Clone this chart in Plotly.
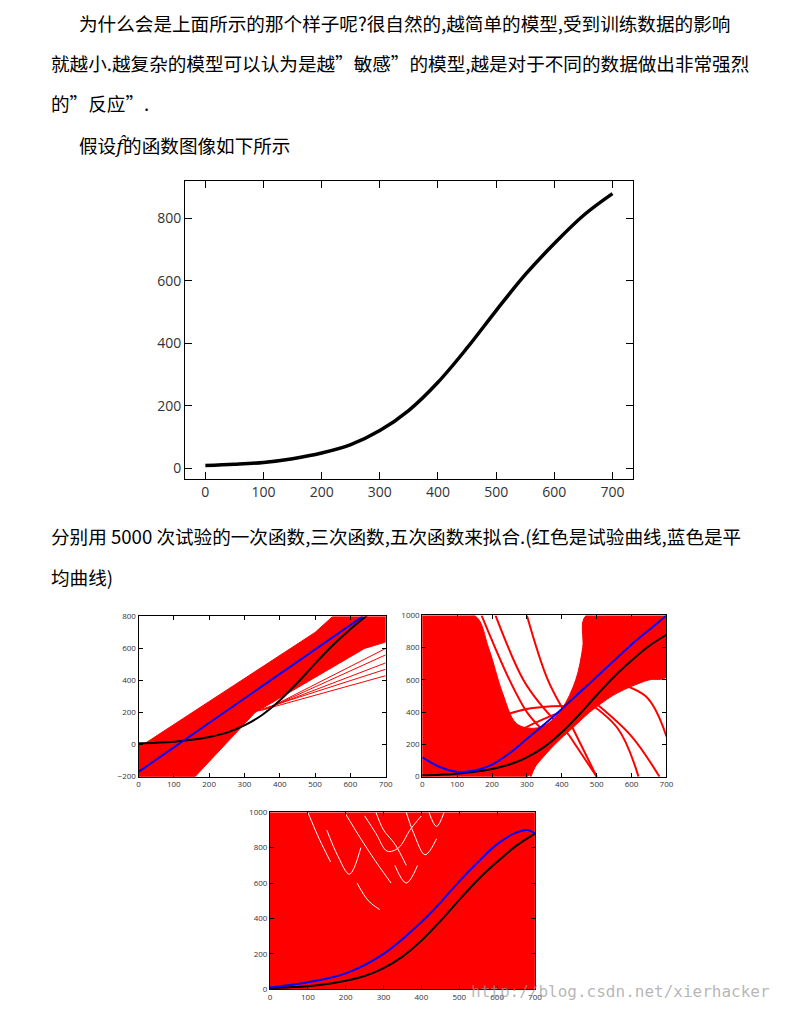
import plotly.graph_objects as go

W, H = 789, 1016
OFF = 8  # page body margin
# true function f
fx = [0, 50, 100, 150, 200, 250, 300, 350, 400, 450, 500, 550, 600, 650, 700]
fy = [8, 12, 18, 30, 48, 75, 120, 185, 275, 385, 505, 620, 720, 810, 880]

# plot 1: linear fits
p1_band_x = [0, 0, 20, 500, 550, 700, 700, 640, 330, 160, 130, 0]
p1_band_y = [-200, 0, 10, 700, 800, 800, 640, 600, 200, -200, -200, -200]
p1_lines_x = [[340, 700], [340, 700], [350, 700], [360, 700], [370, 700]]
p1_lines_y = [[210, 430], [215, 470], [215, 510], [220, 560], [230, 600]]
p1_blue_x = [0, 635]
p1_blue_y = [-170, 800]

# plot 2: cubic fits
p2_fill_x = [0, 0, 150, 190, 230, 270, 320, 360, 400, 440, 460, 470, 700, 700, 650, 600, 560, 530, 480, 430, 380, 330, 300, 0]
p2_fill_y = [0, 1000, 1000, 800, 520, 330, 300, 330, 420, 600, 800, 1000, 1000, 620, 600, 560, 520, 480, 400, 300, 200, 80, 0, 0]
p2_lines_x = [[170, 250, 300, 340], [210, 290, 350, 420], [300, 360, 420, 500], [450, 560, 620], [500, 600, 680],
              [520, 640, 700], [170, 300, 430], [210, 320, 430], [310, 340, 380], [420, 460, 500]]
p2_lines_y = [[1000, 600, 400, 300], [1000, 600, 420, 260], [1000, 600, 350, 0], [500, 300, 0], [450, 250, 0],
              [600, 500, 250], [330, 420, 440], [200, 330, 430], [0, 150, 260], [260, 130, 0]]
p2_blue_x = [0, 50, 100, 150, 200, 250, 300, 350, 400, 450, 500, 550, 600, 650, 700]
p2_blue_y = [120, 60, 30, 38, 75, 145, 235, 325, 420, 520, 620, 720, 820, 910, 1000]

# plot 3: quintic fits
p3_fill_x = [0, 0, 700, 700, 0]
p3_fill_y = [0, 1000, 1000, 0, 0]
p3_holes_x = [[250, 280, 310, 340, 370, 400], [150, 180, 210, 240], [330, 360, 390], [200, 240, 280, 320],
              [280, 300, 330, 360], [360, 380, 410, 440], [100, 130, 160], [230, 260, 290], [420, 440, 460]]
p3_holes_y = [[980, 880, 780, 800, 900, 980], [900, 750, 650, 800], [700, 600, 700], [990, 850, 720, 600],
              [1000, 900, 820, 700], [1000, 880, 760, 850], [1000, 850, 720], [600, 500, 450], [1000, 920, 1000]]
p3_blue_x = [0, 100, 200, 300, 400, 450, 500, 550, 600, 650, 680, 700]
p3_blue_y = [10, 40, 90, 200, 380, 490, 610, 720, 820, 885, 900, 880]

fig = go.Figure()

def px(x): return (x - OFF) / W
def py(y): return 1 - (y - OFF) / H

axstyle = dict(showline=True, linecolor="black", linewidth=1, mirror="ticks", ticks="inside",
               ticklen=4, tickcolor="black", showgrid=False, zeroline=False)

axes = {
    1: dict(dom_x=(185, 638), dom_y=(177, 478), xr=[-35, 735], yr=[-35, 920], yt=[0, 200, 400, 600, 800], fs=14, tl=7),
    2: dict(dom_x=(138, 388), dom_y=(617, 779), xr=[0, 700], yr=[-200, 800], yt=[-200, 0, 200, 400, 600, 800], fs=8, tl=4),
    3: dict(dom_x=(425, 672), dom_y=(616, 779), xr=[0, 700], yr=[0, 1000], yt=[0, 200, 400, 600, 800, 1000], fs=8, tl=4),
    4: dict(dom_x=(271, 539), dom_y=(815, 994), xr=[0, 700], yr=[0, 1000], yt=[0, 200, 400, 600, 800, 1000], fs=8, tl=4),
}
lay = {}
for i, a in axes.items():
    s = "" if i == 1 else str(i)
    lay["xaxis" + s] = dict(axstyle, domain=[px(a["dom_x"][0]), px(a["dom_x"][1])], range=a["xr"],
                            tickvals=[0, 100, 200, 300, 400, 500, 600, 700], anchor="y" + s,
                            tickfont=dict(size=a["fs"], color="#333"), ticklen=a["tl"])
    lay["yaxis" + s] = dict(axstyle, domain=[py(a["dom_y"][1]), py(a["dom_y"][0])], range=a["yr"],
                            tickvals=a["yt"], anchor="x" + s,
                            tickfont=dict(size=a["fs"], color="#333"), ticklen=a["tl"])

def add(x, y, ax, **kw):
    s = "" if ax == 1 else str(ax)
    fig.add_trace(go.Scatter(x=x, y=y, xaxis="x" + s, yaxis="y" + s, mode="lines", showlegend=False, hoverinfo="skip", **kw))

add(fx, fy, 1, line=dict(color="black", width=3.5, shape="spline"))

add(p1_band_x, p1_band_y, 2, fill="toself", fillcolor="red", line=dict(color="red", width=1))
for lx, ly in zip(p1_lines_x, p1_lines_y):
    add(lx, ly, 2, line=dict(color="red", width=1))
add(fx, fy, 2, line=dict(color="black", width=2, shape="spline"))
add(p1_blue_x, p1_blue_y, 2, line=dict(color="blue", width=2))

add(p2_fill_x, p2_fill_y, 3, fill="toself", fillcolor="red", line=dict(color="red", width=1, shape="spline"))
for lx, ly in zip(p2_lines_x, p2_lines_y):
    add(lx, ly, 3, line=dict(color="red", width=2, shape="spline"))
add(fx, fy, 3, line=dict(color="black", width=2, shape="spline"))
add(p2_blue_x, p2_blue_y, 3, line=dict(color="blue", width=2, shape="spline"))

add(p3_fill_x, p3_fill_y, 4, fill="toself", fillcolor="red", line=dict(color="red", width=0))
for lx, ly in zip(p3_holes_x, p3_holes_y):
    add(lx, ly, 4, line=dict(color="white", width=1, shape="spline"))
add(fx, fy, 4, line=dict(color="black", width=2, shape="spline"))
add(p3_blue_x, p3_blue_y, 4, line=dict(color="blue", width=2, shape="spline"))

texts = [
    (77, 17, "为什么会是上面所示的那个样子呢?很自然的,越简单的模型,受到训练数据的影响"),
    (48, 57, "就越小.越复杂的模型可以认为是越”敏感”的模型,越是对于不同的数据做出非常强烈"),
    (48, 97, "的”反应”."),
    (77, 140, "假设<span style='font-family:DejaVu Serif'><i>f̂</i></span>的函数图像如下所示"),
    (48, 535, "分别用 5000 次试验的一次函数,三次函数,五次函数来拟合.(红色是试验曲线,蓝色是平"),
    (48, 577, "均曲线)"),
]
ann = [dict(x=px(x), y=py(y), xref="paper", yref="paper", xanchor="left", yanchor="middle",
            text=t, showarrow=False, borderpad=0, font=dict(size=18.6, family="Noto Sans CJK SC", color="black"))
       for x, y, t in texts]
ann.append(dict(x=px(778), y=py(996), xref="paper", yref="paper", xanchor="right", yanchor="middle",
                text="http://blog.csdn.net/xierhacker", showarrow=False, borderpad=0,
                font=dict(size=16, family="DejaVu Sans Mono", color="rgba(150,150,150,0.7)")))

fig.update_layout(width=W, height=H, margin=dict(l=0, r=0, t=0, b=0), paper_bgcolor="white",
                  plot_bgcolor="white", annotations=ann, **lay)
fig.write_html("out.html")
